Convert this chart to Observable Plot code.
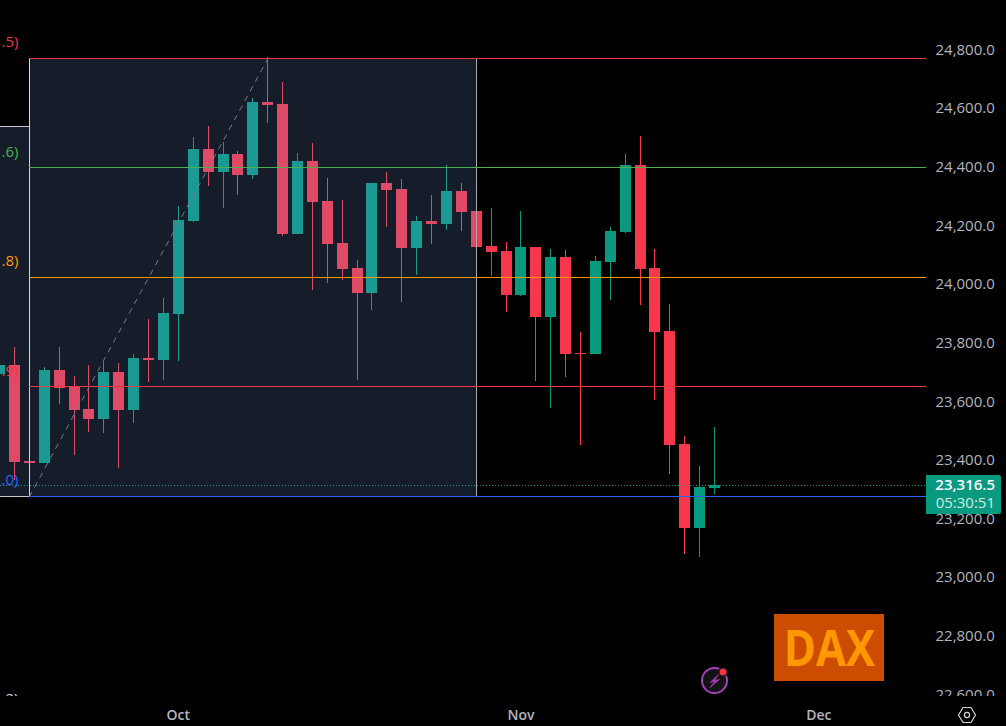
<!DOCTYPE html>
<html>
<head>
<meta charset="utf-8">
<script src="https://cdn.jsdelivr.net/npm/d3@7"></script>
<script src="https://cdn.jsdelivr.net/npm/@observablehq/plot@0.6"></script>
<style>
html,body{margin:0;padding:0;background:#000;overflow:hidden}
#chart{position:relative;width:1006px;height:726px;background:#000;font-family:"Open Sans",sans-serif}
#chart svg{display:block}
.tag{position:absolute;left:926px;top:475px;width:75px;height:39px;background:#089981;border-radius:0 2px 2px 0;color:#fff;font-size:15px;line-height:18px;text-align:right;box-sizing:border-box;padding:0 6px 0 0}
.tag .p{font-weight:600}
.tag .t{color:#cfe9e4}
.logo{position:absolute;left:774px;top:614px;width:110px;height:67px;background:#cc4c00;color:#ff9800;font:700 50px/67px "Open Sans",sans-serif;text-align:center}
.logo span{display:inline-block;transform:scaleX(0.87)}
.icon{position:absolute}
</style>
</head>
<body>
<div id="chart"></div>
<script>
// Daily DAX candles, index 0 is the first full candle; -1 is the one cut by the left edge
const indices = d3.range(-1, 48);
const opens  = [23696,23727,23400,23393,23710,23655,23577,23543,23703,23573,23751,23744,23901,24218,24464,24385,24447,24375,24624,24617,24174,24423,24286,24143,24058,23973,24348,24327,24126,24218,24208,24321,24252,24133,24116,23966,24130,23891,24095,23768,23765,24078,24181,24409,24058,23843,23457,23171,23307];
const highs  = [23727,23788,23400,23720,23788,23689,23727,23737,23734,23765,23884,23955,24269,24505,24542,24488,24457,24638,24778,24692,24450,24484,24365,24290,24085,24348,24385,24361,24235,24307,24409,24348,24324,24263,24147,24252,24130,24123,24119,23839,24099,24198,24447,24508,24123,23935,23485,23382,23515];
const lows   = [23696,23335,23393,23393,23594,23420,23498,23495,23375,23529,23669,23676,23741,24215,24338,24263,24307,24361,24553,24167,24174,23983,24007,24017,23676,23915,24198,23942,24034,24140,24188,24184,24007,24031,23908,23962,23672,23580,23686,23454,23765,23949,24177,23932,23608,23355,23082,23072,23287];
const closes = [23727,23396,23393,23710,23648,23573,23543,23703,23573,23751,23744,23904,24222,24464,24385,24447,24375,24624,24614,24174,24423,24283,24140,24054,23973,24348,24324,24126,24218,24208,24321,24249,24130,24112,23966,24130,23891,24095,23765,23763,24082,24184,24409,24054,23840,23454,23171,23311,23317];

const fibLevels = [24773,24402,24026,23654,23279];
const fibColors = ["#f23645","#4caf50","#ff9800","#f23645","#2962ff"];
const fibTexts  = [".5)",".6)",".8)",".9)",".0)"];
const fibLabelPrices = [24829,24455,24082,23708,23335];
const clippedFibPrice = 22590, clippedFibText = ".2)";
const boxStart = 1, boxEnd = 31, swingEnd = 17, prevBoxTop = 24542;
const priceTicks = [24800,24600,24400,24200,24000,23800,23600,23400,23200,23000,22800,22600];
const monthTicks = [11,34,54];
const monthNames = ["Oct","Nov","Dec"];
const lastPrice = 23316.5, countdown = "05:30:51";

const candles = indices.map((i,k)=>({i,open:opens[k],high:highs[k],low:lows[k],close:closes[k]}));
const fibs = fibLevels.map((level,k)=>({level,color:fibColors[k],text:fibTexts[k],labelAt:fibLabelPrices[k]}));
const xDomain = [-0.94, 61.23];
const yDomain = [22597.7, 24972.25];
const up = "#089981", down = "#f7374b";
const colorOf = d => d.close >= d.open ? up : down;
const overlay = "rgb(116,158,232)";
const hw = 0.37;
const crisp = {shapeRendering:"crispEdges"};

const main = Plot.plot({
  width:1006, height:696, marginLeft:0, marginRight:80, marginTop:0, marginBottom:0,
  x:{type:"linear",domain:xDomain,axis:null},
  y:{type:"linear",domain:yDomain,axis:null},
  style:{background:"#000",color:"#b2b5be",fontFamily:"Open Sans",fontSize:"15px"},
  marks:[
    Plot.axisY({anchor:"right",ticks:priceTicks,tickFormat:d3.format(",.1f"),tickSize:0,tickPadding:9,label:null,fill:"#b2b5be",fontSize:15,dy:-1}),
    Plot.ruleX(candles,{x:"i",y1:"low",y2:"high",stroke:colorOf,strokeWidth:1,...crisp}),
    Plot.rect(candles,{x1:d=>d.i-hw,x2:d=>d.i+hw,y1:d=>Math.min(d.open,d.close),y2:d=>Math.max(d.open,d.close),fill:colorOf,dx:0.5,...crisp}),
    // semi-transparent range boxes over the candles
    Plot.rect([{a:boxStart,b:boxEnd,t:fibLevels[0],l:fibLevels[4]}],{x1:"a",x2:"b",y1:"l",y2:"t",fill:overlay,fillOpacity:0.18,...crisp}),
    Plot.rect([{a:xDomain[0]-1,b:boxStart,t:prevBoxTop,l:fibLevels[4]}],{x1:"a",x2:"b",y1:"l",y2:"t",fill:overlay,fillOpacity:0.18,...crisp}),
    Plot.ruleY([prevBoxTop,fibLevels[4]],{x1:xDomain[0],x2:boxStart,stroke:"#c8c9cc",strokeWidth:1,dy:-0.5,...crisp}),
    Plot.ruleY([lastPrice],{x1:xDomain[0],x2:xDomain[1],stroke:up,strokeWidth:1,strokeDasharray:"1,2",dy:-0.5,...crisp}),
    Plot.ruleX([boxStart],{y1:fibLevels[4],y2:fibLevels[0],stroke:"#d8d9dc",strokeWidth:1,...crisp}),
    Plot.ruleX([boxEnd],{y1:fibLevels[4],y2:fibLevels[0],stroke:"#a6a8ad",strokeWidth:1,...crisp}),
    Plot.line([{i:boxStart,p:fibLevels[4]},{i:swingEnd,p:fibLevels[0]}],{x:"i",y:"p",stroke:"#787b86",strokeWidth:1,strokeDasharray:"5,6"}),
    Plot.ruleY(fibs,{y:"level",x1:boxStart,x2:xDomain[1],stroke:"color",strokeWidth:1,dy:-0.5,...crisp}),
    Plot.text(fibs,{y:"labelAt",text:"text",fill:"color",frameAnchor:"left",dx:18,textAnchor:"end",fontSize:15}),
    Plot.text([clippedFibPrice],{y:d=>d,text:()=>clippedFibText,fill:"#d1d4dc",frameAnchor:"left",dx:18,textAnchor:"end",fontSize:15})
  ]
});

const bottom = Plot.plot({
  width:1006, height:30, marginLeft:0, marginRight:80, marginTop:0, marginBottom:30,
  x:{type:"linear",domain:xDomain},
  style:{background:"#000",color:"#b2b5be",fontFamily:"Open Sans",fontSize:"14px",fontWeight:"600"},
  marks:[
    Plot.axisX({anchor:"bottom",ticks:monthTicks,tickFormat:d=>monthNames[monthTicks.indexOf(d)],tickSize:0,tickPadding:14,label:null,fill:"#b2b5be",fontSize:14})
  ]
});

const root = document.getElementById("chart");
root.append(main,bottom);

const tag = document.createElement("div");
tag.className = "tag";
tag.innerHTML = `<div class="p">${d3.format(",.1f")(lastPrice)}</div><div class="t">${countdown}</div>`;
root.append(tag);

const logo = document.createElement("div");
logo.className = "logo";
logo.innerHTML = "<span>DAX</span>";
root.append(logo);

root.insertAdjacentHTML("beforeend",`
<svg class="icon" style="left:698px;top:664px" width="34" height="34" viewBox="0 0 34 34">
  <circle cx="16.5" cy="16.5" r="12.5" fill="#131316" stroke="#a63fb8" stroke-width="2"/>
  <path d="M21 10 L12 18.5 L17 17 L12 23.5 L21.5 15.5 L16.5 16.5 Z" fill="#a63fb8" stroke="#a63fb8" stroke-width="0.6" stroke-linejoin="round"/>
  <circle cx="25" cy="8" r="5" fill="#131316"/>
  <circle cx="25" cy="8" r="3.5" fill="#f23645"/>
</svg>
<svg class="icon" style="left:957px;top:705px" width="20" height="20" viewBox="0 0 20 20">
  <path d="M6 2.5 H14 L18.5 10 L14 17.5 H6 L1.5 10 Z" fill="none" stroke="#d1d4dc" stroke-width="1.2"/>
  <circle cx="10" cy="10" r="2.6" fill="none" stroke="#d1d4dc" stroke-width="1.2"/>
</svg>`);
</script>
</body>
</html>
